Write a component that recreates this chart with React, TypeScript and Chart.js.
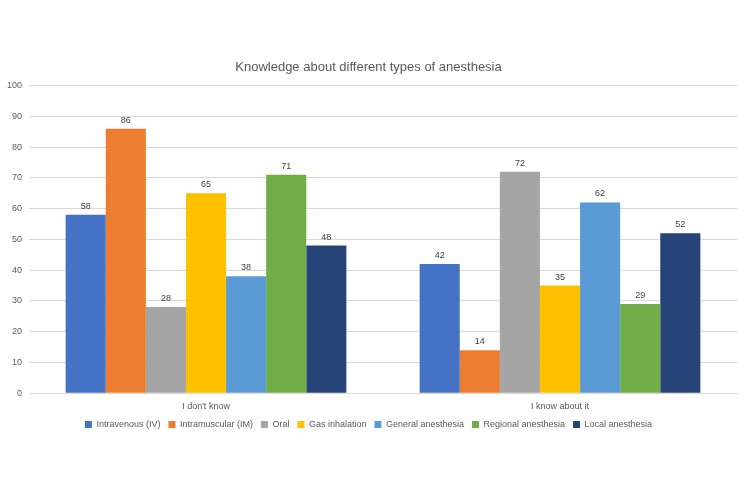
import React, { useEffect, useRef } from "react";
import { Chart, registerables } from "chart.js";

Chart.register(...registerables);

const categories = ["I don't know", "I know about it"];
const seriesNames = [
  "Intravenous (IV)",
  "Intramuscular (IM)",
  "Oral",
  "Gas inhalation",
  "General anesthesia",
  "Regional anesthesia",
  "Local anesthesia",
];
const intravenous = [58, 42];
const intramuscular = [86, 14];
const oral = [28, 72];
const gasInhalation = [65, 35];
const generalAnesthesia = [38, 62];
const regionalAnesthesia = [71, 29];
const localAnesthesia = [48, 52];
const colors = ["#4472C4", "#ED7D31", "#A5A5A5", "#FFC000", "#5B9BD5", "#70AD47", "#264478"];
const yTicks = [0, 10, 20, 30, 40, 50, 60, 70, 80, 90, 100];

const FONT = "'Liberation Sans', Arial, sans-serif";

const valueLabels = {
  id: "valueLabels",
  afterDatasetsDraw(chart: any) {
    const ctx = chart.ctx;
    ctx.save();
    ctx.font = `9px ${FONT}`;
    ctx.fillStyle = "#404040";
    ctx.textAlign = "center";
    ctx.textBaseline = "bottom";
    chart.data.datasets.forEach((ds: any, i: number) => {
      const meta = chart.getDatasetMeta(i);
      meta.data.forEach((bar: any, j: number) => {
        ctx.fillText(String(ds.data[j]), bar.x, bar.y - 4);
      });
    });
    ctx.restore();
  },
};

export default function App() {
  const ref = useRef<HTMLCanvasElement | null>(null);
  useEffect(() => {
    document.body.style.margin = "0";
    const all = [intravenous, intramuscular, oral, gasInhalation, generalAnesthesia, regionalAnesthesia, localAnesthesia];
    const chart = new Chart(ref.current!, {
      type: "bar",
      data: {
        labels: categories,
        datasets: all.map((d, i) => ({
          label: seriesNames[i],
          data: d,
          backgroundColor: colors[i],
          barPercentage: 1,
          categoryPercentage: 0.793,
        })),
      },
      options: {
        animation: false,
        responsive: false,
        layout: { padding: { left: 0, right: 13, top: 0, bottom: 49 } },
        plugins: {
          title: {
            display: true,
            text: "Knowledge about different types of anesthesia",
            color: "#595959",
            font: { family: FONT, size: 13, weight: "normal" },
            padding: { top: 60, bottom: 10 },
          },
          legend: {
            position: "bottom",
            labels: {
              boxWidth: 7,
              boxHeight: 7,
              color: "#595959",
              font: { family: FONT, size: 9 },
              padding: 8,
            },
          },
          tooltip: { enabled: false },
        },
        scales: {
          x: {
            grid: { display: false },
            border: { display: true, color: "#d9d9d9" },
            ticks: { color: "#595959", font: { family: FONT, size: 9 }, padding: 0 },
          },
          y: {
            min: 0,
            max: 100,
            afterBuildTicks: (axis: any) => {
              axis.ticks = yTicks.map((v) => ({ value: v }));
            },
            grid: { color: "#d9d9d9", drawTicks: false },
            border: { display: false },
            ticks: { color: "#595959", font: { family: FONT, size: 9 }, padding: 7 },
          },
        },
      },
      plugins: [valueLabels],
    });
    return () => chart.destroy();
  }, []);
  return <canvas ref={ref} width={750} height={488} style={{ display: "block" }} />;
}
